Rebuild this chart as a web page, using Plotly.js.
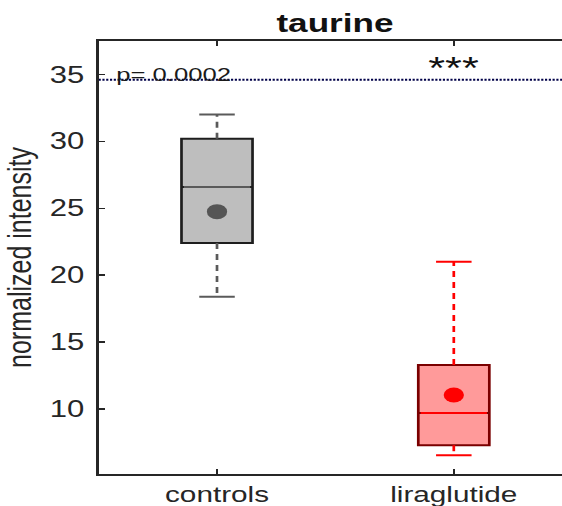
<!DOCTYPE html>
<html>
<head>
<meta charset="utf-8">
<script src="https://cdn.plot.ly/plotly-3.0.1.min.js"></script>
<style>
  html, body { margin: 0; padding: 0; background: #ffffff; overflow: hidden; }
  /* the figure is laid out narrow and widened horizontally to its final 562 px */
  #chart { width: 416px; height: 506px; transform: scaleX(1.351); transform-origin: 0 0; }
</style>
</head>
<body>
<div id="chart"></div>
<script>
// groups and their box-plot statistics
const categories = ['controls', 'liraglutide'];
const q1Values = [22.4, 7.3];
const medianValues = [26.6, 9.7];
const q3Values = [30.2, 13.3];
const whiskerLow = [18.4, 6.55];
const whiskerHigh = [32.0, 21.0];
const meanValues = [24.75, 11.05];

// significance marker
const pValueText = 'p= 0.0002';
const starsText = '***';
const sigLineLevel = 34.6;

const yTicks = [10, 15, 20, 25, 30, 35];

const styles = [
  { fill: '#bebebe', border: '#1e1e1e', median: '#5a5a5a', whisker: '#5a5a5a', mean: '#555555' },
  { fill: '#ff9a9a', border: '#7a0000', median: '#ff0000', whisker: '#ff0000', mean: '#ff0000' }
];

const boxWidth = 0.3;
const capWidth = 0.15;

const traces = [];
categories.forEach((name, i) => {
  const x = i + 1;
  const s = styles[i];
  // box body (quartiles only; whiskers are drawn dashed below)
  traces.push({
    type: 'box', x: [x], q1: [q1Values[i]], median: [medianValues[i]], q3: [q3Values[i]],
    lowerfence: [q1Values[i]], upperfence: [q3Values[i]],
    width: boxWidth, whiskerwidth: 0, fillcolor: s.fill,
    line: { color: s.border, width: 2 }, boxpoints: false, hoverinfo: 'skip'
  });
  // median line
  traces.push({
    type: 'scatter', mode: 'lines', x: [x - boxWidth / 2 + 0.01, x + boxWidth / 2 - 0.01],
    y: [medianValues[i], medianValues[i]], line: { color: s.median, width: 2 }, hoverinfo: 'skip'
  });
  // dashed whiskers
  traces.push({
    type: 'scatter', mode: 'lines', x: [x, x], y: [q3Values[i], whiskerHigh[i]],
    line: { color: s.whisker, width: 2, dash: '6px,5px' }, hoverinfo: 'skip'
  });
  traces.push({
    type: 'scatter', mode: 'lines', x: [x, x], y: [q1Values[i], whiskerLow[i]],
    line: { color: s.whisker, width: 2, dash: '6px,5px' }, hoverinfo: 'skip'
  });
  // whisker caps
  traces.push({
    type: 'scatter', mode: 'lines', x: [x - capWidth / 2, x + capWidth / 2],
    y: [whiskerHigh[i], whiskerHigh[i]], line: { color: s.whisker, width: 2 }, hoverinfo: 'skip'
  });
  traces.push({
    type: 'scatter', mode: 'lines', x: [x - capWidth / 2, x + capWidth / 2],
    y: [whiskerLow[i], whiskerLow[i]], line: { color: s.whisker, width: 2 }, hoverinfo: 'skip'
  });
  // mean marker
  traces.push({
    type: 'scatter', mode: 'markers', x: [x], y: [meanValues[i]],
    marker: { color: s.mean, size: 15, line: { width: 0 } }, hoverinfo: 'skip'
  });
});

// dotted significance line across the axes
traces.push({
  type: 'scatter', mode: 'lines', x: [0.5, 2.5], y: [sigLineLevel, sigLineLevel],
  line: { color: '#000048', width: 2, dash: '1.6px,1.2px' }, hoverinfo: 'skip'
});

const axisColor = '#262626';
const layout = {
  width: 416, height: 506,
  margin: { l: 73, r: 0, t: 41, b: 32 },
  paper_bgcolor: '#ffffff', plot_bgcolor: '#ffffff',
  showlegend: false,
  font: { family: 'Liberation Sans, Arial, sans-serif', color: axisColor },
  title: {
    text: '<b>taurine</b>', font: { size: 26, color: '#111111' },
    xref: 'paper', x: 0.51, xanchor: 'center',
    yref: 'container', y: 1 - 23 / 506, yanchor: 'middle'
  },
  xaxis: {
    range: [0.5, 2.457], tickvals: [1, 2], ticktext: categories,
    ticks: 'inside', ticklen: 5, tickwidth: 1.5, tickcolor: axisColor,
    showline: true, linecolor: axisColor, linewidth: 2, mirror: 'ticks',
    showgrid: false, zeroline: false, ticklabelstandoff: 0,
    tickfont: { size: 22, color: axisColor }
  },
  yaxis: {
    range: [5.15, 37.5], tickvals: yTicks,
    ticks: 'inside', ticklen: 4.5, tickwidth: 1.5, tickcolor: axisColor,
    showline: true, linecolor: axisColor, linewidth: 2, mirror: false,
    showgrid: false, zeroline: false, ticklabelstandoff: 4,
    tickfont: { size: 23, color: axisColor },
    title: { text: 'normalized intensity', font: { size: 25, color: axisColor }, standoff: 11 }
  },
  annotations: [
    { x: 0.56, y: 35.0, xref: 'x', yref: 'y', text: pValueText, showarrow: false,
      xanchor: 'left', yanchor: 'middle', font: { size: 19, color: '#1a1a1a' } },
    { x: 2, y: 35.45, xref: 'x', yref: 'y', text: starsText, showarrow: false,
      xanchor: 'center', yanchor: 'middle', font: { size: 32, color: '#111111' } }
  ]
};

Plotly.newPlot('chart', traces, layout, { staticPlot: true, displayModeBar: false });
</script>
</body>
</html>
